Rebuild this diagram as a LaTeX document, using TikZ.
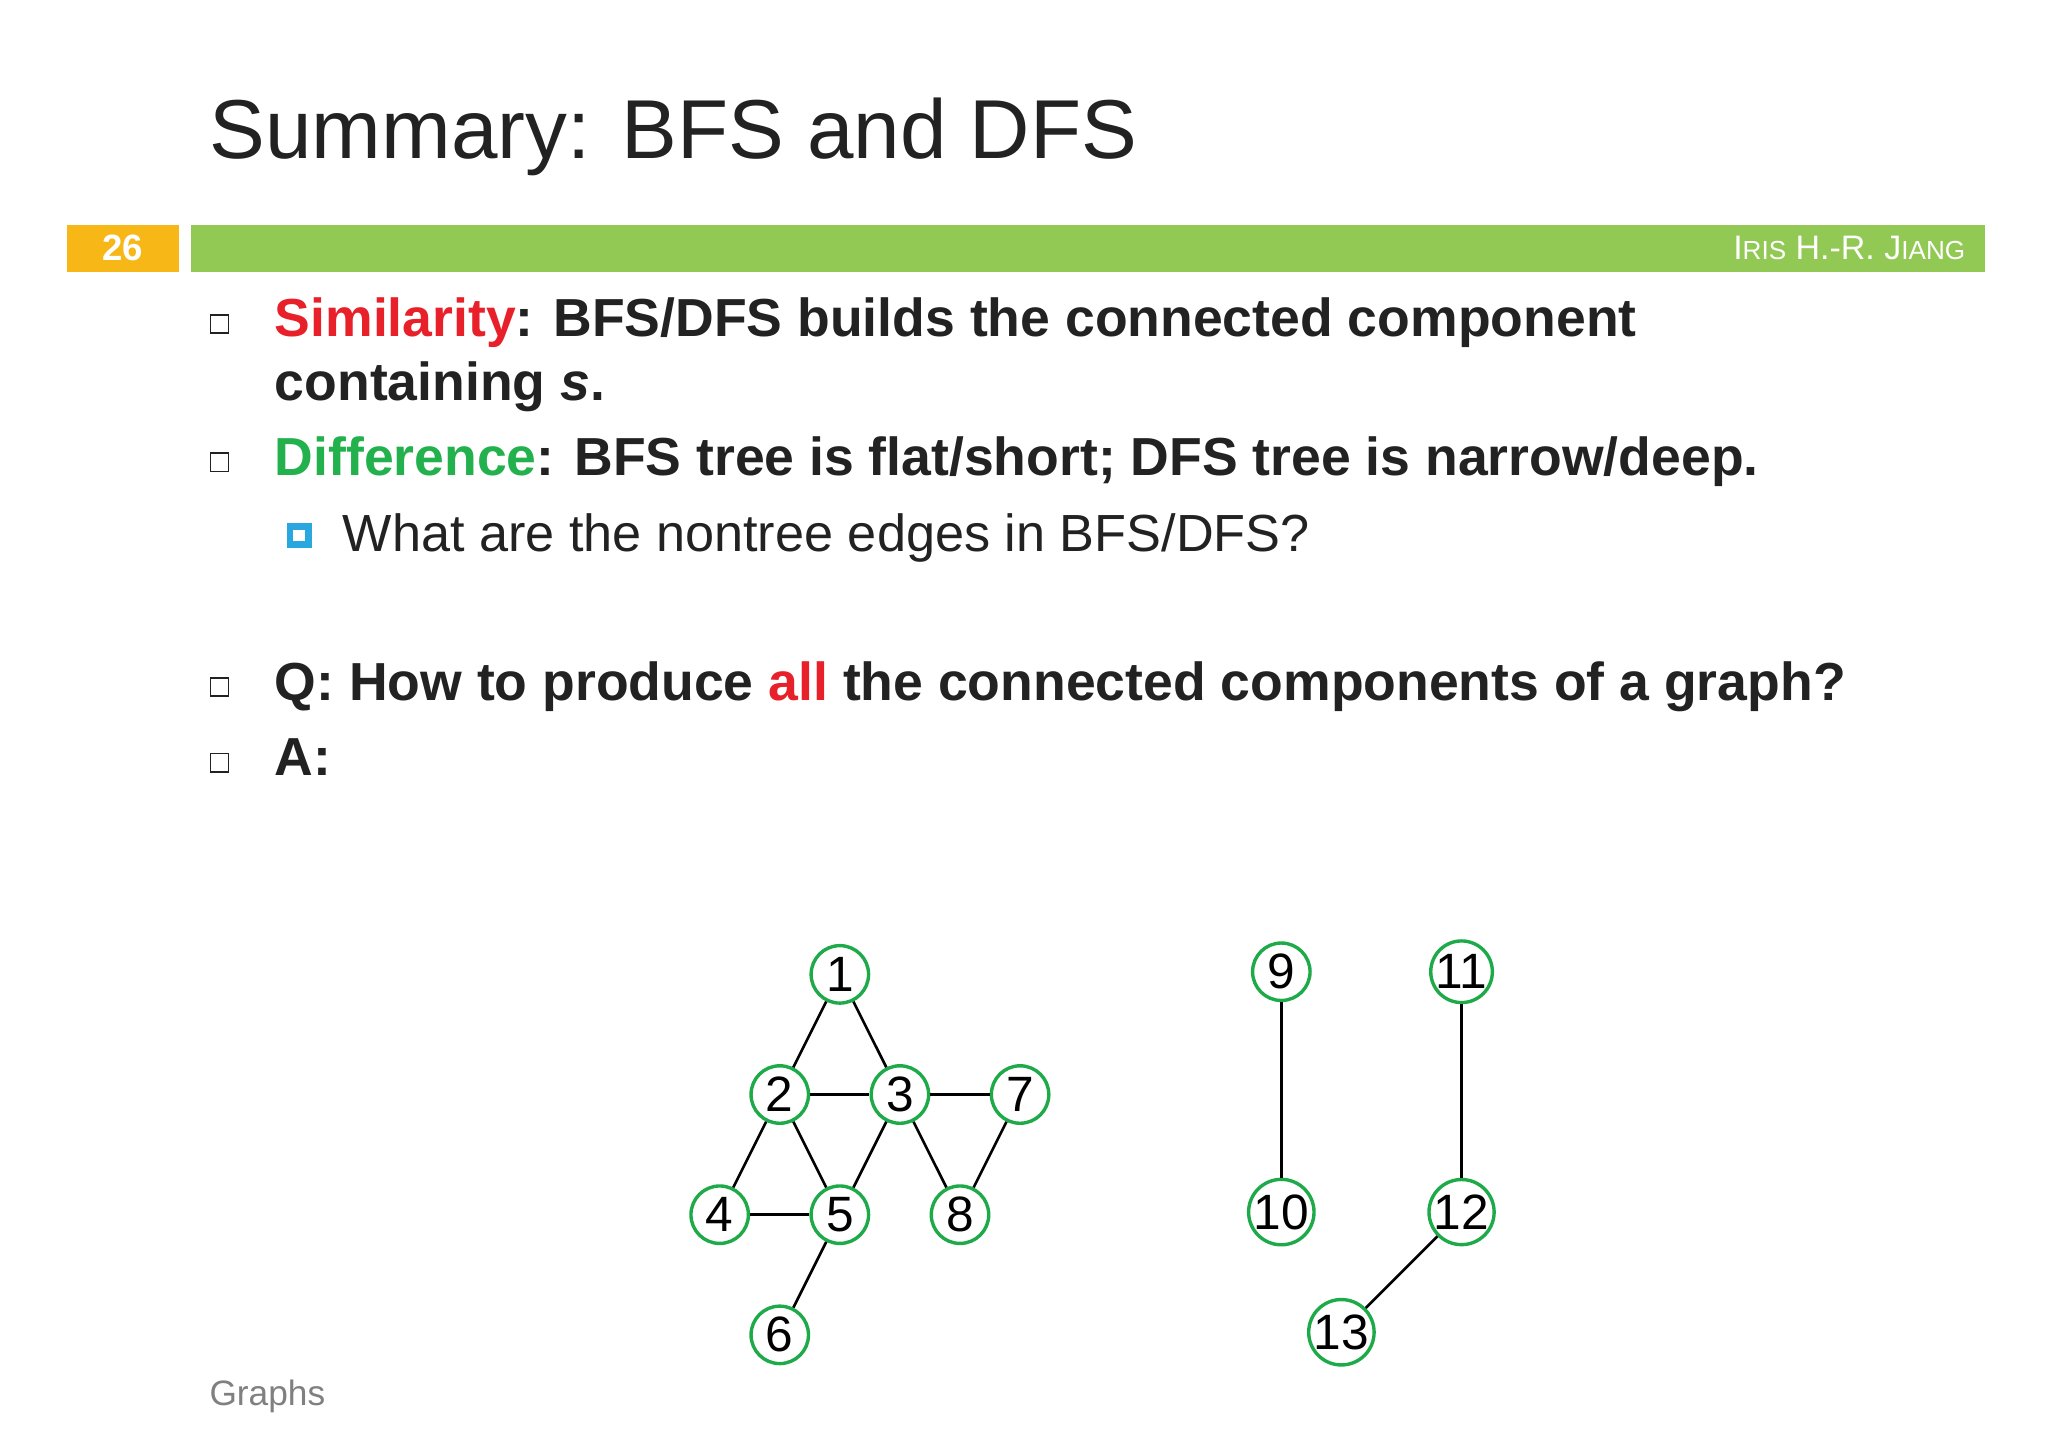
\documentclass[tikz,border=0pt]{standalone}
\usepackage{fontspec}
\setmainfont{Liberation Sans}
\usetikzlibrary{positioning}
\definecolor{barGreen}{HTML}{92C954}
\definecolor{numOrange}{HTML}{F7B817}
\definecolor{simRed}{HTML}{E8202A}
\definecolor{diffGreen}{HTML}{22B14C}
\definecolor{ringGreen}{HTML}{1FAA4A}
\definecolor{subBlue}{HTML}{29A8E0}
\definecolor{txtDark}{HTML}{222222}

\tikzset{
  vtx/.style={circle, draw=ringGreen, line width=1.3pt, fill=white,
    minimum size=22pt, inner sep=0pt, font=\fontsize{19}{19}\selectfont},
  edge/.style={line width=1pt, black},
  bulletbox/.style={draw=txtDark, line width=0.6pt, minimum size=7pt, inner sep=0pt},
  bodytext/.style={anchor=base west, inner sep=0pt, text=txtDark,
    font=\fontsize{20.5}{25}\selectfont\bfseries}
}

\begin{document}
\begin{tikzpicture}[x=0.5pt,y=-0.5pt]
\useasboundingbox (0,0) rectangle (1568,1111);
\fill[white] (0,0) rectangle (1568,1111);

% Title and header bar
\node[anchor=base west, inner sep=0pt, text=txtDark, font=\fontsize{32}{36}\selectfont]
  (title) at (160,121) {Summary: BFS and DFS};
\fill[numOrange] (51,172) rectangle (137,208);
\node[text=white, font=\fontsize{14}{14}\selectfont\bfseries] (pagenum) at (94,190) {26};
\fill[barGreen] (146,172) rectangle (1520,208);
\node[anchor=base east, inner sep=0pt, text=white, font=\fontsize{13}{13}\selectfont]
  (author) at (1505,199) {I{\fontsize{10}{10}\selectfont RIS} H.-R. J{\fontsize{10}{10}\selectfont IANG}};

% Bullets
\foreach \y in {248,354,526,584}
  \node[bulletbox] at (168,\y) {};
\node[bodytext] (sim) at (210,258)
  {\textcolor{simRed}{Similarity}: BFS/DFS builds the connected component};
\node[bodytext] (sim2) at (210,307) {containing \textit{s}.};
\node[bodytext] (diff) at (210,364)
  {\textcolor{diffGreen}{Difference}: BFS tree is flat/short; DFS tree is narrow/deep.};
\node[draw=subBlue, line width=2.5pt, minimum size=7pt, inner sep=0pt] (sq) at (229,410) {};
\node[anchor=base west, inner sep=0pt, text=txtDark, font=\fontsize{20}{24}\selectfont]
  (sub) at (262,422) {What are the nontree edges in BFS/DFS?};
\node[bodytext] (q) at (210,536)
  {Q: How to produce \textcolor{simRed}{all} the connected components of a graph?};
\node[bodytext] (a) at (210,594) {A:};
\node[anchor=base west, inner sep=0pt, text=gray, font=\fontsize{13.5}{14}\selectfont]
  (foot) at (160,1076) {Graphs};

% Graph
\foreach \n/\x/\y in {1/643/746, 2/597/838, 3/689/838, 7/781/838, 4/551/930,
  5/643/930, 8/735/930, 6/597/1022, 9/981/744, 11/1119/744, 10/981/928,
  12/1119/928, 13/1027/1020}
  \node[vtx] (v\n) at (\x,\y) {\n};
\foreach \a/\b in {1/2, 1/3, 2/3, 3/7, 2/4, 2/5, 3/5, 3/8, 7/8, 4/5, 5/6,
  9/10, 11/12, 12/13}
  \draw[edge] (v\a) -- (v\b);

\end{tikzpicture}
\end{document}
